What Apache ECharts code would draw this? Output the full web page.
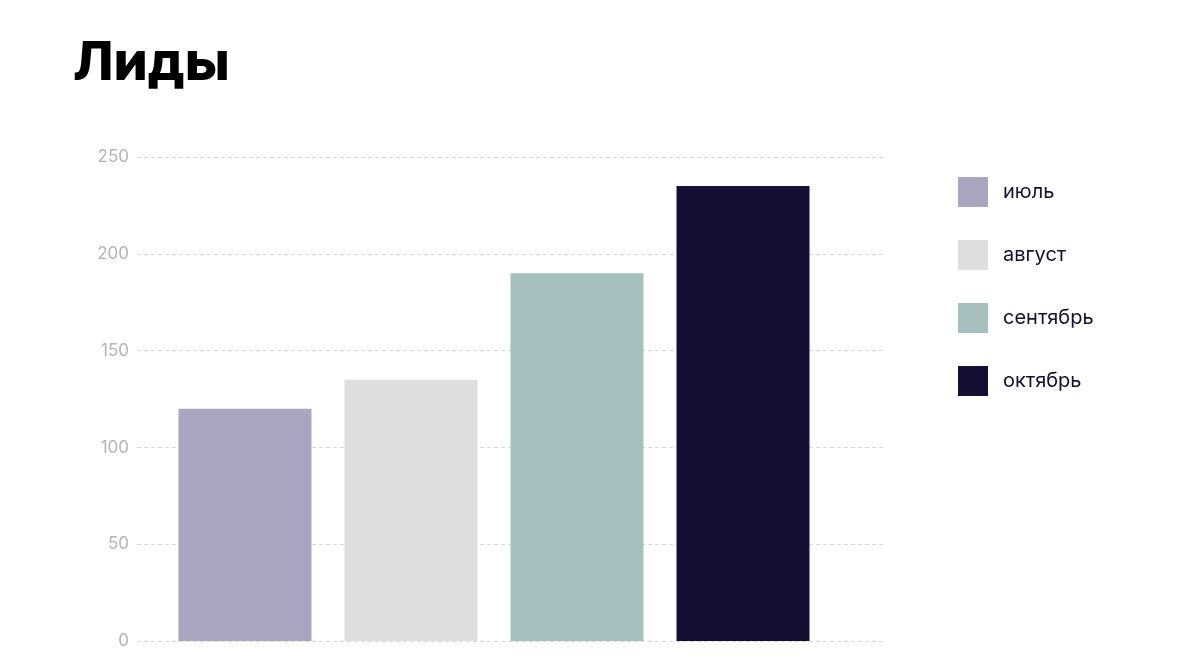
<!DOCTYPE html>
<html>
<head>
<meta charset="utf-8">
<script src="https://cdn.jsdelivr.net/npm/echarts@6/dist/echarts.min.js"></script>
<style>html,body{margin:0;padding:0;background:#fff;}#c{width:1200px;height:668px;}</style>
</head>
<body>
<div id="c"></div>
<script>
const months = ['июль', 'август', 'сентябрь', 'октябрь'];
const leads = [120, 135, 190, 235];
const colors = ['#aaa6c0', '#dedede', '#a7bfbf', '#141033'];
const yTicks = { min: 0, max: 250, interval: 50 };

const chart = echarts.init(document.getElementById('c'));
const series = months.map((m, i) => ({
  name: m,
  type: 'bar',
  stack: 'all',
  xAxisIndex: 0,
  yAxisIndex: 0,
  barWidth: 133,
  itemStyle: { color: colors[i] },
  data: months.map((_, j) => (j === i ? leads[i] : null))
}));

chart.setOption({
  animation: false,
  title: {
    text: 'Лиды',
    left: 68,
    top: 32,
    textStyle: { fontFamily: 'Inter', fontWeight: 800, fontSize: 54, color: '#000' }
  },
  legend: {
    orient: 'vertical',
    left: 953,
    top: 172,
    itemWidth: 30,
    itemHeight: 30,
    itemGap: 33,
    icon: 'rect',
    textStyle: { fontFamily: 'Inter', fontSize: 20, color: '#13112f', padding: [0, 0, 0, 10] },
    data: months
  },
  grid: [
    { left: 162, width: 664, top: 157, height: 484 },
    { left: 137, width: 748, top: 157, height: 484 }
  ],
  xAxis: [
    { type: 'category', gridIndex: 0, data: months, show: false },
    { type: 'category', gridIndex: 1, data: months, show: false }
  ],
  yAxis: [
    { type: 'value', gridIndex: 0, min: yTicks.min, max: yTicks.max, interval: yTicks.interval, show: false },
    {
      type: 'value', gridIndex: 1, min: yTicks.min, max: yTicks.max, interval: yTicks.interval,
      axisLine: { show: false }, axisTick: { show: false },
      axisLabel: { margin: 8, fontFamily: 'Inter', fontSize: 17, color: '#b4b4b4' },
      splitLine: { lineStyle: { type: [4, 3], color: '#d8d8d8', width: 1 } }
    }
  ],
  series: series
});
</script>
</body>
</html>
